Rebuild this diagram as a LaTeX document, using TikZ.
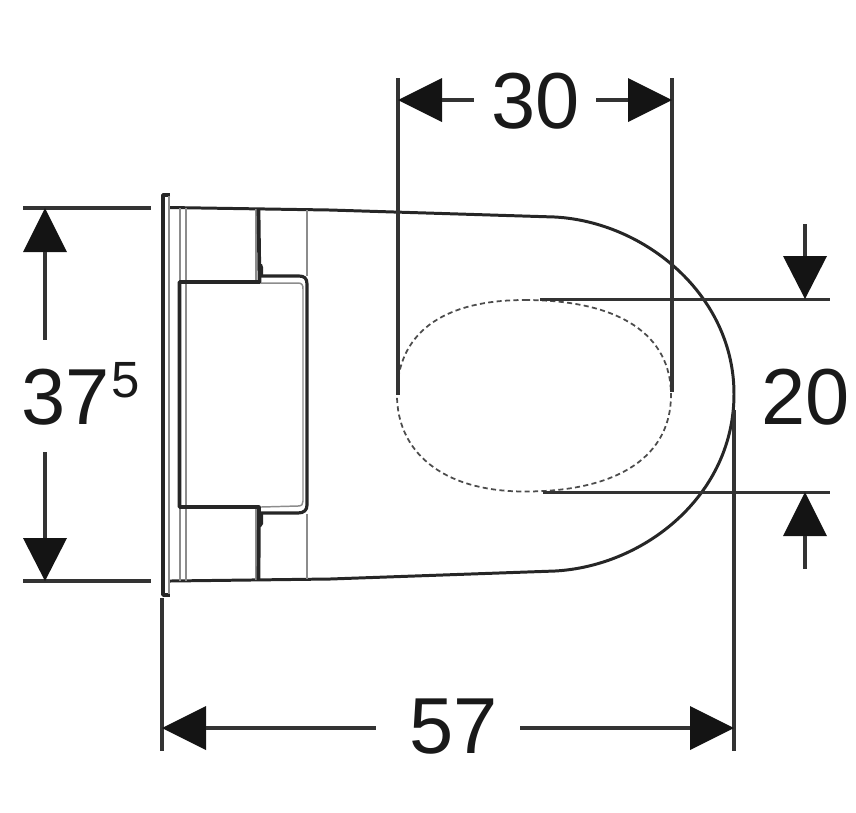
\documentclass[tikz,border=0pt]{standalone}
\usepackage{fontspec}
\setmainfont{Liberation Sans}
\tikzset{
  x=0.1mm,y=-0.1mm,
  dim/.style={line width=0.95pt,draw=black!80},
  head/.style={fill=black!92,draw=none},
  thick line/.style={line width=1.05pt,draw=black!85,line join=round},
  mid line/.style={line width=0.85pt,draw=black!85,line join=round},
  pale/.style={line width=0.42pt,draw=black!45},
  dash line/.style={line width=0.5pt,draw=black!70,dash pattern=on 1.45pt off 0.95pt},
  num/.style={inner sep=0pt,font=\fontsize{22.6}{24}\selectfont,text=black!90},
}
\begin{document}
\begin{tikzpicture}
\useasboundingbox (0,0) rectangle (856,812);
% outline
\draw[mid line] (170,207.5) -- (330,210) -- (555,217)
  .. controls (645,222) and (734,295) .. (734,394)
  .. controls (734,495) and (645,566) .. (555,571)
  -- (330,579) -- (170,581);
% flange
\draw[thick line] (170,195) -- (163,195) -- (163,595) -- (170,595);
\draw[pale,line width=0.6pt] (169,196) -- (169,594);
% pale verticals
\foreach \x in {180,186} {
  \draw[pale] (\x,208) -- (\x,282);
  \draw[pale] (\x,508) -- (\x,581);
}
\draw[pale] (186,282) -- (186,506);
\draw[pale,line width=0.6pt] (256,209) -- (256,281);
\draw[pale,line width=0.6pt] (256,508) -- (256,580);
\draw[pale] (307,210) -- (307,276);
\draw[pale] (307,514) -- (307,579);
% inner pale box line
\draw[pale] (261,283) -- (298,283) .. controls (302,283) and (303,285) .. (303,289)
  -- (303,501) .. controls (303,504) and (302,506) .. (298,506) -- (261,507);
% box
\draw[thick line] (258.5,209) -- (259.5,282) -- (179.5,282) -- (179.5,507) -- (259,507) -- (258.5,580);
\draw[thick line,line width=0.9pt] (261,276) -- (299,276) .. controls (304,276) and (307,278) .. (307,284)
  -- (307,505) .. controls (307,510) and (304,513) .. (298,513) -- (261,513);
\fill[black!85] (259,264) -- (262,264) -- (263,267) -- (263,276) -- (259,276) -- cycle;
\fill[black!85] (259,513) -- (263,513) -- (263,524) -- (261,527) -- (259,527) -- cycle;
% seat
\draw[dash line] (525,300)
  .. controls (620,300) and (671,335) .. (671,395)
  .. controls (671,455) and (620,491.5) .. (525,491.5)
  .. controls (440,491.5) and (397,450) .. (397,395)
  .. controls (397,335) and (440,300) .. (525,300);
% dimension 30
\coordinate (a30l) at (398,100); \coordinate (a30r) at (672,100);
\draw[dim] (398,78) -- (398,395);
\draw[dim] (672,78) -- (672,392);
\fill[head] (a30l) -- (442,78) -- (442,122) -- cycle;
\fill[head] (a30r) -- (628,78) -- (628,122) -- cycle;
\draw[dim] (442,100) -- (474,100);
\draw[dim] (596,100) -- (628,100);
\node[num] (n30) at (535.5,101) {30};
% dimension 37.5
\draw[dim] (23,208) -- (151,208);
\draw[dim] (23,581) -- (151,581);
\fill[head] (45,208) -- (23,252) -- (67,252) -- cycle;
\fill[head] (45,581) -- (23,538) -- (67,538) -- cycle;
\draw[dim] (45,252) -- (45,340);
\draw[dim] (45,452) -- (45,538);
\node[num] (n37) at (66,397) {37};
\node[inner sep=0pt,font=\fontsize{14.5}{16}\selectfont,text=black!90] (n5) at (125.5,380) {5};
% dimension 20
\draw[dim] (540,299.5) -- (830,299.5);
\draw[dim] (543,492.5) -- (830,492.5);
\fill[head] (805,299) -- (783,256) -- (827,256) -- cycle;
\fill[head] (805,492) -- (783,536) -- (827,536) -- cycle;
\draw[dim] (805,224) -- (805,256);
\draw[dim] (805,536) -- (805,569);
\node[num] (n20) at (806,397) {20};
% dimension 57
\draw[dim] (162,598) -- (162,751);
\draw[dim] (734,410) -- (734,751);
\fill[head] (162,728) -- (206,706) -- (206,750) -- cycle;
\fill[head] (734,728) -- (690,706) -- (690,750) -- cycle;
\draw[dim] (206,728) -- (376,728);
\draw[dim] (520,728) -- (690,728);
\node[num] (n57) at (454,727) {57};
\end{tikzpicture}
\end{document}
